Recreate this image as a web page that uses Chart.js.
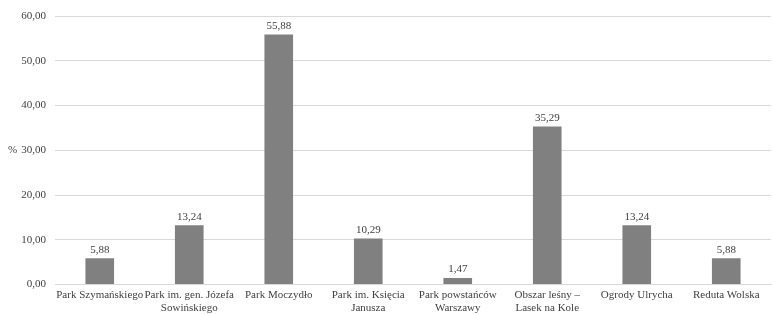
<!DOCTYPE html>
<html>
<head>
<meta charset="utf-8">
<script src="https://cdn.jsdelivr.net/npm/chart.js@4"></script>
<style>
  html, body { margin: 0; padding: 0; background: #fff; overflow: hidden; }
  #wrap { width: 773px; height: 319px; }
</style>
</head>
<body>
<div id="wrap"><canvas id="chart"></canvas></div>
<script>
const categories = [
  "Park Szymańskiego",
  ["Park im. gen. Józefa", "Sowińskiego"],
  "Park Moczydło",
  ["Park im. Księcia", "Janusza"],
  ["Park powstańców", "Warszawy"],
  ["Obszar leśny –", "Lasek na Kole"],
  "Ogrody Ulrycha",
  "Reduta Wolska"
];
const values = [5.88, 13.24, 55.88, 10.29, 1.47, 35.29, 13.24, 5.88];
const yTicks = [0, 10, 20, 30, 40, 50, 60];

const serif = "Liberation Serif, Times New Roman, Times, serif";
Chart.defaults.font.family = serif;
Chart.defaults.font.size = 11;
Chart.defaults.color = "#404040";

const fmt = v => v.toFixed(2).replace(".", ",");

// value labels above bars + horizontal "%" axis title
const barLabels = {
  id: "barLabels",
  afterDatasetsDraw(chart) {
    const ctx = chart.ctx;
    const meta = chart.getDatasetMeta(0);
    ctx.save();
    ctx.font = "11px " + serif;
    ctx.fillStyle = "#404040";
    ctx.textAlign = "center";
    ctx.textBaseline = "bottom";
    meta.data.forEach((bar, i) => {
      ctx.fillText(fmt(values[i]), bar.x, bar.y - 3);
    });
    const y = chart.scales.y;
    ctx.textAlign = "left";
    ctx.textBaseline = "middle";
    ctx.fillText("%", 8, y.getPixelForValue(30));
    ctx.restore();
  }
};

new Chart(document.getElementById("chart"), {
  type: "bar",
  data: {
    labels: categories,
    datasets: [{
      data: values,
      backgroundColor: "#808080",
      borderWidth: 0,
      barPercentage: 0.32,
      categoryPercentage: 1
    }]
  },
  options: {
    responsive: true,
    maintainAspectRatio: false,
    animation: false,
    layout: { padding: { top: 16, right: 2, left: 0, bottom: 0 } },
    plugins: { legend: { display: false }, tooltip: { enabled: false } },
    scales: {
      x: {
        grid: { display: false, drawTicks: false },
        border: { color: "#d9d9d9" },
        ticks: {
          maxRotation: 0,
          autoSkip: false,
          padding: 4
        }
      },
      y: {
        min: 0,
        max: 60,
        afterBuildTicks(axis) { axis.ticks = yTicks.map(v => ({ value: v })); },
        afterFit(axis) { axis.width = 55; },
        grid: { color: "#d9d9d9", drawTicks: false },
        border: { display: false },
        ticks: {
          padding: 9,
          callback: v => fmt(v)
        }
      }
    }
  },
  plugins: [barLabels]
});
</script>
</body>
</html>
